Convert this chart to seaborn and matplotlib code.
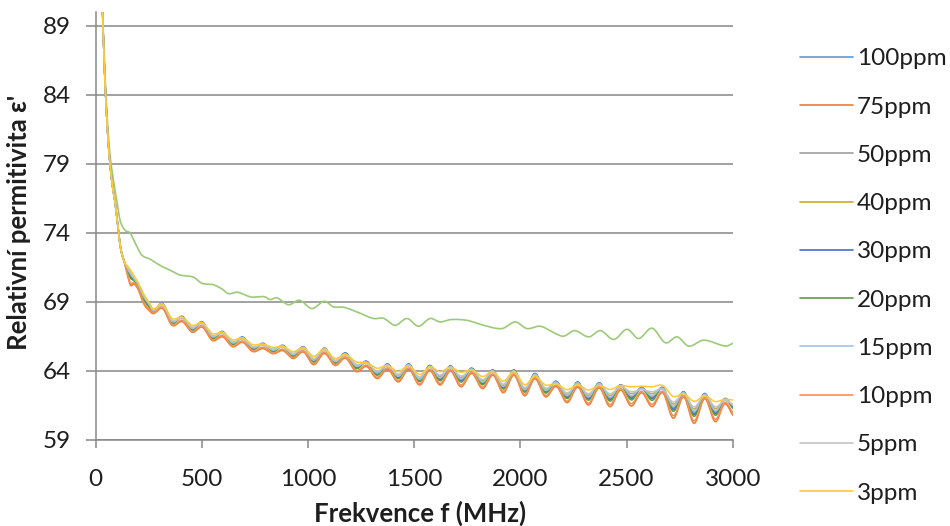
import numpy as np
import pandas as pd
import matplotlib
matplotlib.use("Agg")
import matplotlib.pyplot as plt
import seaborn as sns
from matplotlib.lines import Line2D

# ---------------- data ----------------
labels = ["100ppm", "75ppm", "50ppm", "40ppm", "30ppm",
          "20ppm", "15ppm", "10ppm", "5ppm", "3ppm"]
colors = ["#5B9BD5", "#ED7D31", "#9E9E9E", "#D6A531", "#4472C4",
          "#5E9E3E", "#9DC3E6", "#F29155", "#C4C4C4", "#FFCB2E"]

freq_mhz = [10, 20, 30, 40, 50, 60, 70, 80, 90, 100, 110, 120, 135, 150, 165, 180, 200, 225, 250,
            272, 315, 360, 408, 455, 502, 550, 598, 645, 692, 740, 788, 835, 882, 930, 978,
            1027, 1077, 1127, 1177, 1227, 1276, 1325, 1375, 1425, 1475, 1525, 1573, 1622, 1671,
            1720, 1771, 1822, 1871, 1920, 1970, 2020, 2069, 2118, 2169, 2220, 2270, 2320, 2371,
            2422, 2472, 2522, 2571, 2620, 2670, 2720, 2769, 2818, 2868, 2918, 2962, 3000]

eps_100ppm = [115, 100, 91.5, 86.5, 83.0, 80.4, 78.6, 77.3, 76.4, 75.1, 73.7, 72.7, 71.9,
              71.3, 70.85, 70.6, 70.2, 69.3, 68.75,
              68.31, 68.9, 67.53, 67.95, 67.03, 67.55, 66.43, 66.85, 65.98, 66.45, 65.63, 66.0,
              65.45, 65.85, 65.13, 65.75, 64.72, 65.65, 64.63, 65.3, 64.27, 64.7, 63.79, 64.5,
              63.54, 64.5, 63.33, 64.4, 63.42, 64.37, 63.32, 64.2, 63.12, 64.07, 62.79, 64.07,
              62.56, 63.82, 62.51, 63.25, 62.13, 63.2, 62.02, 63.15, 61.97, 63.0, 62.09, 62.8,
              62.06, 62.8, 61.28, 62.5, 60.92, 62.37, 60.98, 62.0, 61.45]
eps_75ppm = [115, 100, 91.5, 86.5, 83.0, 80.4, 78.6, 77.3, 76.4, 75.1, 73.7, 72.7, 71.9,
             70.9, 70.2, 70.3, 69.9, 68.9, 68.4,
             68.15, 68.52, 67.3, 67.57, 66.8, 67.17, 66.2, 66.47, 65.75, 66.07, 65.4, 65.62,
             65.25, 65.47, 64.9, 65.37, 64.45, 65.27, 64.4, 64.92, 63.95, 64.32, 63.45, 64.12,
             63.2, 64.12, 62.98, 64.02, 62.98, 63.99, 62.85, 63.82, 62.72, 63.69, 62.42, 63.69,
             62.2, 63.44, 62.13, 62.87, 61.7, 62.82, 61.53, 62.77, 61.41, 62.62, 61.46, 62.42,
             61.41, 62.42, 60.57, 62.12, 60.2, 61.99, 60.32, 61.62, 60.8]
eps_50ppm = [115, 100, 91.5, 86.5, 83.0, 80.4, 78.6, 77.3, 76.4, 75.1, 73.7, 72.7, 71.9,
             71.35, 70.95, 70.65, 70.2, 69.35, 68.8,
             68.33, 68.82, 67.55, 67.87, 67.05, 67.47, 66.45, 66.77, 66.0, 66.37, 65.65, 65.92,
             65.48, 65.77, 65.15, 65.67, 64.75, 65.57, 64.65, 65.22, 64.3, 64.62, 63.83, 64.42,
             63.58, 64.42, 63.37, 64.32, 63.47, 64.29, 63.38, 64.12, 63.16, 63.99, 62.84, 63.99,
             62.6, 63.74, 62.56, 63.17, 62.18, 63.12, 62.08, 63.07, 62.04, 62.92, 62.16, 62.72,
             62.13, 62.72, 61.36, 62.42, 61.0, 62.29, 61.05, 61.92, 61.4]
eps_40ppm = [115, 100, 91.5, 86.5, 83.0, 80.4, 78.6, 77.3, 76.4, 75.1, 73.7, 72.7, 71.9,
             71.45, 71.1, 70.75, 70.3, 69.45, 68.9,
             68.38, 68.78, 67.63, 67.83, 67.13, 67.43, 66.53, 66.73, 66.08, 66.33, 65.73, 65.88,
             65.54, 65.73, 65.23, 65.63, 64.84, 65.53, 64.73, 65.18, 64.41, 64.58, 63.94, 64.38,
             63.69, 64.38, 63.48, 64.28, 63.61, 64.25, 63.53, 64.08, 63.29, 63.95, 62.96, 63.95,
             62.72, 63.7, 62.68, 63.13, 62.32, 63.08, 62.24, 63.03, 62.22, 62.88, 62.36, 62.68,
             62.35, 62.68, 61.6, 62.38, 61.24, 62.25, 61.27, 61.88, 61.5]
eps_30ppm = [115, 100, 91.5, 86.5, 83.0, 80.4, 78.6, 77.3, 76.4, 75.1, 73.7, 72.7, 71.9,
             71.3, 70.8, 70.6, 70.15, 69.25, 68.7,
             68.29, 68.88, 67.5, 67.95, 67.0, 67.55, 66.4, 66.85, 65.95, 66.45, 65.6, 66.0,
             65.43, 65.85, 65.1, 65.75, 64.69, 65.65, 64.6, 65.3, 64.23, 64.7, 63.75, 64.5,
             63.5, 64.5, 63.29, 64.4, 63.37, 64.37, 63.27, 64.2, 63.07, 64.07, 62.75, 64.07,
             62.52, 63.82, 62.47, 63.25, 62.08, 63.2, 61.97, 63.15, 61.91, 63.0, 62.02, 62.8,
             61.99, 62.8, 61.2, 62.5, 60.84, 62.37, 60.9, 62.0, 61.4]
eps_20ppm = [115, 100, 91.5, 86.5, 83.0, 80.4, 78.6, 77.3, 76.4, 75.1, 73.7, 72.7, 71.9,
             71.25, 70.7, 70.55, 70.1, 69.2, 68.65,
             68.26, 68.85, 67.46, 67.9, 66.96, 67.5, 66.36, 66.8, 65.91, 66.4, 65.56, 65.95,
             65.39, 65.8, 65.06, 65.7, 64.64, 65.6, 64.56, 65.25, 64.17, 64.65, 63.69, 64.45,
             63.44, 64.45, 63.23, 64.35, 63.29, 64.32, 63.19, 64.15, 63.0, 64.02, 62.69, 64.02,
             62.46, 63.77, 62.4, 63.2, 62.0, 63.15, 61.88, 63.1, 61.81, 62.95, 61.9, 62.75,
             61.87, 62.75, 61.08, 62.45, 60.71, 62.32, 60.79, 61.95, 61.3]
eps_15ppm = [115, 100, 91.5, 86.5, 83.0, 80.4, 78.6, 77.3, 76.4, 75.1, 73.7, 72.7, 71.9,
             71.4, 71.0, 70.7, 70.25, 69.4, 68.85,
             68.34, 68.85, 67.58, 67.9, 67.08, 67.5, 66.48, 66.8, 66.03, 66.4, 65.68, 65.95,
             65.5, 65.8, 65.18, 65.7, 64.78, 65.6, 64.68, 65.25, 64.34, 64.65, 63.86, 64.45,
             63.61, 64.45, 63.4, 64.35, 63.51, 64.32, 63.43, 64.15, 63.2, 64.02, 62.88, 64.02,
             62.64, 63.77, 62.6, 63.2, 62.22, 63.15, 62.13, 63.1, 62.1, 62.95, 62.22, 62.75,
             62.2, 62.75, 61.44, 62.45, 61.08, 62.32, 61.12, 61.95, 61.5]
eps_10ppm = [115, 100, 91.5, 86.5, 83.0, 80.4, 78.6, 77.3, 76.4, 75.1, 73.7, 72.7, 71.9,
             71.0, 70.35, 70.4, 70.0, 69.0, 68.5,
             68.19, 68.62, 67.36, 67.67, 66.86, 67.27, 66.26, 66.57, 65.81, 66.17, 65.46, 65.72,
             65.3, 65.57, 64.96, 65.47, 64.52, 65.37, 64.46, 65.02, 64.03, 64.42, 63.54, 64.22,
             63.29, 64.22, 63.07, 64.12, 63.1, 64.09, 62.98, 63.92, 62.83, 63.79, 62.52, 63.79,
             62.3, 63.54, 62.23, 62.97, 61.81, 62.92, 61.66, 62.87, 61.56, 62.72, 61.63, 62.52,
             61.58, 62.52, 60.76, 62.22, 60.39, 62.09, 60.5, 61.72, 61.0]
eps_5ppm = [115, 100, 91.5, 86.5, 83.0, 80.4, 78.6, 77.3, 76.4, 75.1, 73.7, 72.7, 71.9,
            71.5, 71.15, 70.8, 70.35, 69.5, 68.95,
            68.41, 68.75, 67.68, 67.8, 67.18, 67.4, 66.58, 66.7, 66.13, 66.3, 65.78, 65.85,
            65.59, 65.7, 65.28, 65.6, 64.9, 65.5, 64.78, 65.15, 64.48, 64.55, 64.01, 64.35,
            63.76, 64.35, 63.56, 64.25, 63.71, 64.22, 63.64, 64.05, 63.38, 63.92, 63.04, 63.92,
            62.8, 63.67, 62.77, 63.1, 62.41, 63.05, 62.35, 63.0, 62.35, 62.85, 62.5, 62.65,
            62.49, 62.65, 61.75, 62.35, 61.4, 62.22, 61.41, 61.85, 61.6]
eps_3ppm = [115, 100, 91.5, 86.5, 83.0, 80.4, 78.6, 77.3, 76.4, 75.1, 73.7, 72.7, 71.9,
            71.6, 71.3, 70.9, 70.4, 69.6, 69.0,
            68.5, 68.85, 67.8, 67.9, 67.3, 67.5, 66.7, 66.8, 66.25, 66.4, 65.9, 65.95,
            65.7, 65.8, 65.4, 65.7, 65.05, 65.6, 64.9, 65.2, 64.65, 64.6, 64.2, 64.4,
            63.95, 64.4, 63.75, 64.3, 63.95, 64.27, 63.9, 64.1, 63.6, 63.97, 63.25, 63.97,
            63.0, 63.62, 62.98, 63.08, 62.65, 63.0, 62.62, 62.95, 62.66, 62.95, 62.85, 62.9,
            62.85, 62.95, 62.15, 62.35, 61.8, 62.2, 61.78, 61.95, 61.9]

# the upper (light green) curve whose legend entry is cut off in the reference
freq_ref = [10, 20, 30, 40, 50, 60, 70, 80, 90, 100, 115, 138, 162, 185, 217, 256, 303, 350,
            397, 460, 500, 553, 594, 625, 668, 731, 794, 822, 853, 908, 960, 1018, 1077, 1120,
            1167, 1230, 1308, 1355, 1410, 1466, 1520, 1575, 1622, 1670, 1747, 1827, 1913, 1976,
            2031, 2094, 2160, 2204, 2255, 2322, 2377, 2440, 2502, 2557, 2620, 2683, 2738, 2793,
            2863, 2966, 3000]
eps_ref = [115, 100, 91.8, 87.0, 83.5, 81.0, 79.3, 78.2, 77.2, 76.3, 74.9, 74.2, 74.0, 73.3,
           72.4, 72.1, 71.65, 71.3, 70.95, 70.8, 70.35, 70.25, 69.95, 69.6, 69.7, 69.36, 69.38,
           69.17, 69.3, 68.8, 69.12, 68.52, 69.05, 68.64, 68.62, 68.28, 67.8, 67.82, 67.31, 67.8,
           67.24, 67.8, 67.55, 67.72, 67.67, 67.31, 67.07, 67.55, 67.07, 67.24, 66.75, 66.52,
           66.92, 66.47, 66.92, 66.28, 67.02, 66.35, 67.1, 66.04, 66.47, 65.8, 66.23, 65.8, 66.0]
ref_color = "#9CCB78"

x_ticks = [0, 500, 1000, 1500, 2000, 2500, 3000]
y_ticks = [59, 64, 69, 74, 79, 84, 89]

series_values = [eps_100ppm, eps_75ppm, eps_50ppm, eps_40ppm, eps_30ppm,
                 eps_20ppm, eps_15ppm, eps_10ppm, eps_5ppm, eps_3ppm]


# Excel-style "smoothed line" rendering (cardinal spline through the read points)
def smoothed(x, y, per=12):
    x = np.asarray(x, float)
    y = np.asarray(y, float)
    m = np.empty_like(y)
    m[1:-1] = (y[2:] - y[:-2]) / (x[2:] - x[:-2])
    m[0] = (y[1] - y[0]) / (x[1] - x[0])
    m[-1] = (y[-1] - y[-2]) / (x[-1] - x[-2])
    xs, ys = [], []
    t = np.linspace(0, 1, per, endpoint=False)
    for i in range(len(x) - 1):
        h = x[i + 1] - x[i]
        h00 = 2 * t**3 - 3 * t**2 + 1
        h10 = t**3 - 2 * t**2 + t
        h01 = -2 * t**3 + 3 * t**2
        h11 = t**3 - t**2
        xs.append(x[i] + t * h)
        ys.append(h00 * y[i] + h10 * h * m[i] + h01 * y[i + 1] + h11 * h * m[i + 1])
    xs.append([x[-1]])
    ys.append([y[-1]])
    return np.concatenate(xs), np.concatenate(ys)


frames = []
for lab, vals in zip(labels, series_values):
    sx, sy = smoothed(freq_mhz, vals)
    frames.append(pd.DataFrame({"f": sx, "eps": sy, "series": lab}))
df = pd.concat(frames, ignore_index=True)
rx, ry = smoothed(freq_ref, eps_ref)
df_ref = pd.DataFrame({"f": rx, "eps": ry})

# ---------------- plot ----------------
sns.set_theme(style="white")
plt.rcParams["font.family"] = ["Lato", "DejaVu Sans"]

fig = plt.figure(figsize=(9.5, 5.26), dpi=100)
ax = fig.add_axes([0.1007, 0.1635, 0.6706, 0.8137])

grid_c = "#878787"
text_c = "#1e1e1e"
ax.set_xlim(0, 3000)
ax.set_ylim(59, 90)
ax.set_xticks(x_ticks)
ax.set_yticks(y_ticks)
ax.yaxis.grid(True, color=grid_c, lw=1.1, zorder=0)
ax.xaxis.grid(False)
ax.set_axisbelow(True)

sns.lineplot(data=df_ref, x="f", y="eps", color=ref_color, lw=1.2,
             estimator=None, sort=False, ax=ax, legend=False)
sns.lineplot(data=df, x="f", y="eps", hue="series", hue_order=labels,
             palette=colors, lw=1.1, estimator=None, sort=False, ax=ax, legend=False)

for s in ["top", "right"]:
    ax.spines[s].set_visible(False)
for s in ["left", "bottom"]:
    ax.spines[s].set_color(grid_c)
    ax.spines[s].set_linewidth(1.1)

ax.tick_params(axis="both", which="major", direction="out", color=grid_c, width=1.1,
               labelsize=17.5, labelcolor=text_c)
ax.tick_params(axis="x", length=6, pad=15, bottom=True)
ax.tick_params(axis="y", length=7, pad=11, left=True)

ax.set_xlabel("Frekvence f (MHz)", fontsize=18.5, fontweight="bold", color=text_c, va="center")
ax.set_ylabel("Relativní permitivita ε'", fontsize=18.5, fontweight="bold", color=text_c,
              va="center")
ax.xaxis.set_label_coords(0.509, -0.171)
ax.yaxis.set_label_coords(-0.121, 0.509)

handles = [Line2D([0], [0], color=c, lw=1.2) for c in colors]
fig.legend(handles, labels, loc="upper left", bbox_to_anchor=(0.842, 0.908),
           frameon=False, fontsize=17.5, handlelength=2.18, handletextpad=0.16,
           labelspacing=1.12, borderpad=0, borderaxespad=0, labelcolor=text_c)

fig.savefig("out.png", dpi=100)
